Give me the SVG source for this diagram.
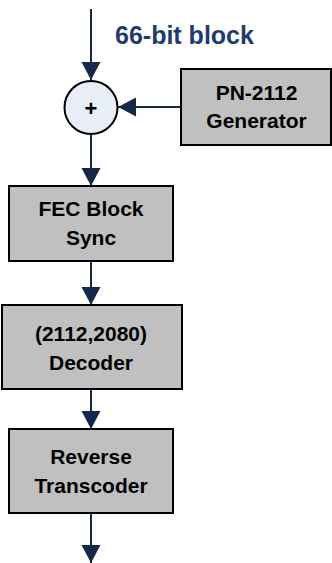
<svg xmlns="http://www.w3.org/2000/svg" width="332" height="563" viewBox="0 0 332 563">
  <style>
    .box { fill: #C0C0C0; stroke: #000; stroke-width: 2; }
    .lbl { font-family: "Liberation Sans", Arial, sans-serif; font-weight: bold; font-size: 21px; fill: #000; text-anchor: middle; }
    .conn { stroke: #14294A; stroke-width: 2; fill: none; marker-end: url(#arrow); }
    .title { font-family: "Liberation Sans", Arial, sans-serif; font-weight: bold; font-size: 25px; fill: #1F3A70; }
  </style>
  <defs>
    <marker id="arrow" markerUnits="userSpaceOnUse" markerWidth="19" markerHeight="20" refX="18" refY="10" orient="auto">
      <path d="M0,0.5 L18,10 L0,19.5 z" fill="#14294A"/>
    </marker>
  </defs>
  <rect width="332" height="563" fill="#fff"/>
  <g id="connectors">
    <line class="conn" x1="91" y1="9" x2="91" y2="80"/>
    <line class="conn" x1="181" y1="107" x2="118" y2="107"/>
    <line class="conn" x1="91" y1="134" x2="91" y2="186"/>
    <line class="conn" x1="91" y1="261" x2="91" y2="305"/>
    <line class="conn" x1="91" y1="389" x2="91" y2="429"/>
    <line class="conn" x1="91" y1="513" x2="91" y2="563"/>
  </g>
  <text class="title" x="115" y="44">66-bit block</text>
  <g id="adder">
    <circle cx="91" cy="107.5" r="26.5" fill="#E8EEF8" stroke="#000" stroke-width="2"/>
    <text class="lbl" x="91" y="115.5" style="font-size:22px">+</text>
  </g>
  <g id="pn-generator">
    <rect class="box" x="181" y="69" width="150" height="76"/>
    <text class="lbl" x="256.5" y="100">PN-2112</text>
    <text class="lbl" x="256.5" y="128">Generator</text>
  </g>
  <g id="fec-block-sync">
    <rect class="box" x="9" y="186" width="164" height="75"/>
    <text class="lbl" x="91" y="216">FEC Block</text>
    <text class="lbl" x="91" y="244.5">Sync</text>
  </g>
  <g id="decoder">
    <rect class="box" x="2" y="305" width="180" height="84"/>
    <text class="lbl" x="91" y="341">(2112,2080)</text>
    <text class="lbl" x="91" y="369.5">Decoder</text>
  </g>
  <g id="reverse-transcoder">
    <rect class="box" x="9" y="429" width="164" height="84"/>
    <text class="lbl" x="91" y="464">Reverse</text>
    <text class="lbl" x="91" y="492.5">Transcoder</text>
  </g>
</svg>
